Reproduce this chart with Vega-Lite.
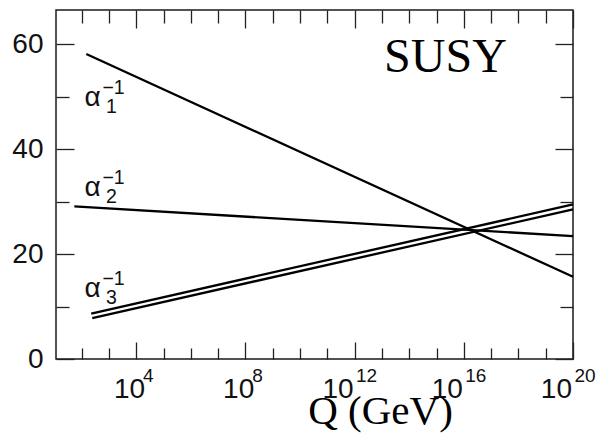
{
  "$schema": "https://vega.github.io/schema/vega-lite/v6.json",
  "width": 517,
  "height": 349,
  "autosize": {"type": "none"},
  "padding": {"left": 56, "top": 10, "right": 25, "bottom": 76},
  "background": "white",
  "config": {
    "view": {"stroke": "#1a1a1a", "strokeWidth": 1.5},
    "axis": {
      "domain": false,
      "grid": false,
      "labelFont": "Liberation Sans",
      "labelFontSize": 28,
      "labelColor": "#111111",
      "tickColor": "#222222",
      "tickWidth": 1.3
    }
  },
  "datasets": {
    "couplings": [
      {"Q": 148, "inv_alpha": 58.12, "series": "alpha1"},
      {"Q": 1e20, "inv_alpha": 15.67, "series": "alpha1"},
      {"Q": 54, "inv_alpha": 29.07, "series": "alpha2"},
      {"Q": 1e20, "inv_alpha": 23.42, "series": "alpha2"},
      {"Q": 224, "inv_alpha": 8.66, "series": "alpha3_upper"},
      {"Q": 1e20, "inv_alpha": 29.45, "series": "alpha3_upper"},
      {"Q": 245, "inv_alpha": 7.81, "series": "alpha3_lower"},
      {"Q": 1e20, "inv_alpha": 28.5, "series": "alpha3_lower"}
    ],
    "labels": [
      {"Q": 126, "inv_alpha": 48.3, "sub": "1"},
      {"Q": 126, "inv_alpha": 31.09, "sub": "2"},
      {"Q": 126, "inv_alpha": 11.75, "sub": "3"}
    ],
    "exponents": [
      {"Q": 1e4, "exponent": "4"},
      {"Q": 1e8, "exponent": "8"},
      {"Q": 1e12, "exponent": "12"},
      {"Q": 1e16, "exponent": "16"},
      {"Q": 1e20, "exponent": "20"}
    ],
    "tag": [{"Q": 1.2e13, "inv_alpha": 54.69, "text": "SUSY"}]
  },
  "resolve": {"axis": {"x": "independent", "y": "independent"}},
  "layer": [
    {
      "data": {"name": "couplings"},
      "mark": {"type": "line", "color": "black", "strokeWidth": 2.3},
      "encoding": {
        "x": {
          "field": "Q",
          "type": "quantitative",
          "scale": {"type": "log", "domain": [11.5, 1e20], "nice": false},
          "axis": {
            "orient": "bottom",
            "title": "Q (GeV)",
            "titleFont": "Liberation Serif",
            "titleFontSize": 41,
            "titleFontWeight": "normal",
            "titleColor": "black",
            "titleAlign": "center",
            "titleBaseline": "alphabetic",
            "titleX": 324,
            "titleY": 64,
            "values": [1e2, 1e3, 1e4, 1e5, 1e6, 1e7, 1e8, 1e9, 1e10, 1e11, 1e12, 1e13, 1e14, 1e15, 1e16, 1e17, 1e18, 1e19, 1e20],
            "tickSize": {"condition": {"test": "round(log(datum.value)/LN10) % 4 === 0", "value": -17}, "value": -11},
            "labelExpr": "round(log(datum.value)/LN10) % 4 === 0 ? '10' : ''",
            "labelAlign": "right",
            "labelOffset": {"condition": {"test": "round(log(datum.value)/LN10) < 10", "value": 8.3}, "value": -1.5},
            "labelBaseline": "alphabetic",
            "labelPadding": 55,
            "labelFlush": false,
            "labelOverlap": false,
            "labelBound": false
          }
        },
        "y": {
          "field": "inv_alpha",
          "type": "quantitative",
          "scale": {"domain": [0, 66.5], "nice": false, "zero": false},
          "axis": {
            "orient": "left",
            "title": null,
            "values": [0, 10, 20, 30, 40, 50, 60],
            "tickSize": {"condition": {"test": "datum.value % 20 === 0", "value": -18}, "value": -13},
            "labelExpr": "datum.value % 20 === 0 ? datum.label : ''",
            "labelPadding": 31,
            "labelOverlap": false,
            "labelBound": false
          }
        },
        "detail": {"field": "series"}
      }
    },
    {
      "data": {"name": "labels"},
      "mark": {"type": "text", "text": "α", "font": "Liberation Sans", "fontSize": 28, "align": "left", "baseline": "alphabetic", "color": "#111111"},
      "encoding": {
        "x": {
          "field": "Q",
          "type": "quantitative",
          "scale": {"type": "log", "domain": [11.5, 1e20], "nice": false},
          "axis": {
            "orient": "top",
            "title": null,
            "labels": false,
            "values": [1e2, 1e3, 1e4, 1e5, 1e6, 1e7, 1e8, 1e9, 1e10, 1e11, 1e12, 1e13, 1e14, 1e15, 1e16, 1e17, 1e18, 1e19, 1e20],
            "tickSize": {"condition": {"test": "round(log(datum.value)/LN10) % 4 === 0", "value": -18}, "value": -13}
          }
        },
        "y": {
          "field": "inv_alpha",
          "type": "quantitative",
          "scale": {"domain": [0, 66.5], "nice": false, "zero": false},
          "axis": {
            "orient": "right",
            "title": null,
            "labels": false,
            "values": [0, 10, 20, 30, 40, 50, 60],
            "tickSize": {"condition": {"test": "datum.value % 20 === 0", "value": -18}, "value": -13}
          }
        }
      }
    },
    {
      "data": {"name": "labels"},
      "mark": {"type": "text", "font": "Liberation Sans", "fontSize": 19.5, "align": "left", "baseline": "alphabetic", "dx": 21.5, "dy": 7, "color": "#111111"},
      "encoding": {
        "x": {"field": "Q", "type": "quantitative", "axis": null},
        "y": {"field": "inv_alpha", "type": "quantitative", "axis": null},
        "text": {"field": "sub"}
      }
    },
    {
      "data": {"name": "labels"},
      "mark": {"type": "text", "text": "−1", "font": "Liberation Sans", "fontSize": 19.5, "align": "left", "baseline": "alphabetic", "dx": 18, "dy": -12, "color": "#111111"},
      "encoding": {
        "x": {"field": "Q", "type": "quantitative", "axis": null},
        "y": {"field": "inv_alpha", "type": "quantitative", "axis": null}
      }
    },
    {
      "data": {"name": "exponents"},
      "mark": {"type": "text", "font": "Liberation Sans", "fontSize": 19, "align": "center", "baseline": "alphabetic", "dx": 12, "dy": 22.5, "color": "#111111"},
      "encoding": {
        "x": {"field": "Q", "type": "quantitative", "axis": null},
        "y": {"datum": 0, "type": "quantitative", "axis": null},
        "text": {"field": "exponent"}
      }
    },
    {
      "data": {"name": "tag"},
      "mark": {"type": "text", "font": "Liberation Serif", "fontSize": 48, "align": "left", "baseline": "alphabetic", "color": "black"},
      "encoding": {
        "x": {"field": "Q", "type": "quantitative", "axis": null},
        "y": {"field": "inv_alpha", "type": "quantitative", "axis": null},
        "text": {"field": "text"}
      }
    }
  ]
}
